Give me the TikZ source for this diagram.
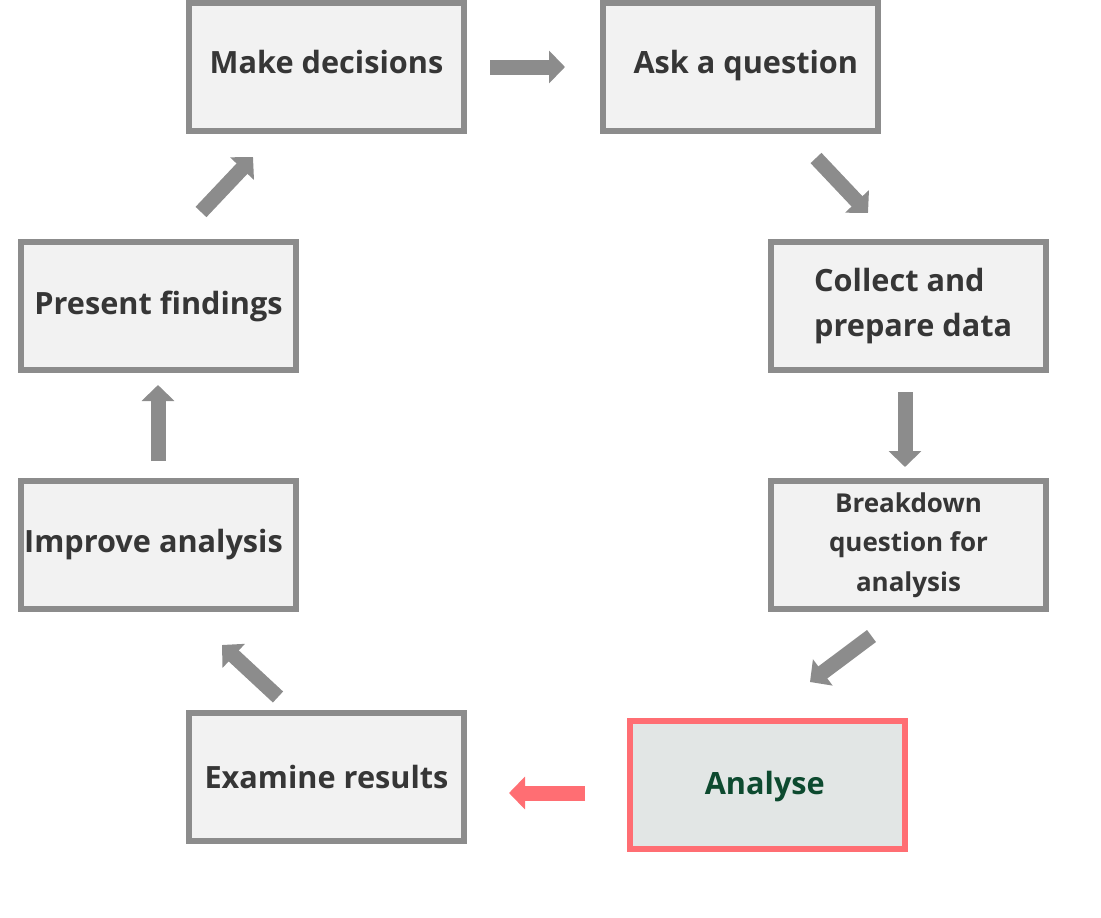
\documentclass[tikz,border=0pt]{standalone}
\usepackage{fontspec}
\setmainfont{Open Sans}
\usetikzlibrary{arrows.meta}
\definecolor{boxgray}{HTML}{8C8C8C}
\definecolor{boxfill}{HTML}{F2F2F2}
\definecolor{txt}{HTML}{363636}
\definecolor{redline}{HTML}{FF6E73}
\definecolor{anfill}{HTML}{E2E6E5}
\definecolor{antext}{HTML}{0D4A2F}
\newcommand{\upby}[2]{\raisebox{#1}[\height][\depth]{#2}}
\begin{document}
\begin{tikzpicture}[x=0.75pt,y=-0.75pt,
  stepbox/.style={draw=boxgray,line width=4.5pt,fill=boxfill,minimum width=206.25pt,minimum height=96pt,inner sep=0pt,text=txt,font=\fontsize{23}{31}\selectfont\bfseries,align=center},
  redbox/.style={stepbox,draw=redline,fill=anfill,text=antext},
  blockarrow/.style={draw=boxgray,line width=11.25pt,-{Triangle[width=24pt,length=12pt]}},
  redarrow/.style={blockarrow,draw=redline}]
\useasboundingbox (0,0) rectangle (1101,918);
\node[stepbox] (make) at (326.5,66.5) {\upby{3.4pt}{Make decisions}};
\node[stepbox] (ask) at (740.5,66.5) {\upby{0.4pt}{\hspace*{8pt}Ask a question}};
\node[stepbox,align=left,font=\fontsize{23}{34}\selectfont\bfseries] (collect) at (908.5,306) {\hspace*{7pt}Collect and\\\hspace*{7pt}prepare data};
\node[stepbox,font=\fontsize{19.5}{29.5}\selectfont\bfseries] (break) at (908.5,545) {Breakdown\\question for\\analysis};
\node[redbox] (analyse) at (767.5,785) {\upby{-1pt}{\hspace*{-4pt}Analyse}};
\node[stepbox] (examine) at (326.5,777) {Examine results};
\node[stepbox] (improve) at (158.5,545) {\hspace*{-7.5pt}Improve analysis};
\node[stepbox] (present) at (158.5,306) {Present findings};
\coordinate (a1s) at (490,67); \coordinate (a1e) at (565,67);
\coordinate (a2s) at (816,158); \coordinate (a2e) at (868,213);
\coordinate (a3s) at (905,392); \coordinate (a3e) at (905,467);
\coordinate (a4s) at (871.5,636); \coordinate (a4e) at (810,682);
\coordinate (a5s) at (585,793); \coordinate (a5e) at (509,793);
\coordinate (a6s) at (278,697); \coordinate (a6e) at (222,645);
\coordinate (a7s) at (158,461); \coordinate (a7e) at (158,385);
\coordinate (a8s) at (201,212); \coordinate (a8e) at (253,157);
\draw[blockarrow] (a1s) -- (a1e);
\draw[blockarrow] (a2s) -- (a2e);
\draw[blockarrow] (a3s) -- (a3e);
\draw[blockarrow] (a4s) -- (a4e);
\draw[redarrow] (a5s) -- (a5e);
\draw[blockarrow] (a6s) -- (a6e);
\draw[blockarrow] (a7s) -- (a7e);
\draw[blockarrow] (a8s) -- (a8e);
\end{tikzpicture}
\end{document}
